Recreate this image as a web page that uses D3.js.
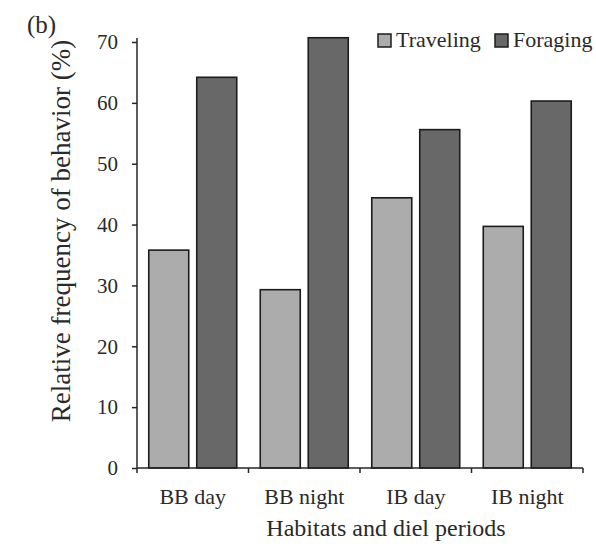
<!DOCTYPE html>
<html>
<head>
<meta charset="utf-8">
<script src="https://cdn.jsdelivr.net/npm/d3@7"></script>
<style>
    html, body { margin: 0; padding: 0; background: #fff; overflow: hidden; }
    svg { display: block; }
</style>
</head>
<body>
<script>
/*
*    behavior chart
*/

var categories = ["BB day", "BB night", "IB day", "IB night"];
var series = ["Traveling", "Foraging"];
var traveling = [35.8, 29.3, 44.4, 39.7];
var foraging = [64.2, 70.7, 55.6, 60.3];
var yTicks = [0, 10, 20, 30, 40, 50, 60, 70];

var width = 596;
var height = 555;
var margin = {top: 42, right: 13, bottom: 87, left: 137};
var colors = {"Traveling": "#acacac", "Foraging": "#686868"};
var font = "'Liberation Serif', 'Times New Roman', serif";
var ink = "#2a2a2a";

var innerWidth = width - margin.left - margin.right;
var innerHeight = height - margin.top - margin.bottom;

//Table for the bars
var rows = categories.map((c, i) => ({
    category: c,
    values: [
        {key: "Traveling", value: traveling[i]},
        {key: "Foraging", value: foraging[i]}
    ]
}));

//Scales
var x = d3.scaleBand()
    .domain(categories)
    .range([0, innerWidth]);

var x1 = d3.scaleBand()
    .domain(series)
    .range([0, x.bandwidth()])
    .paddingInner(0.1667)
    .paddingOuter(0.245);

var y = d3.scaleLinear()
    .domain([0, 70])
    .range([innerHeight, 0]);

//Canvas
var svg = d3.select("body")
    .append("svg")
        .attr("width", width)
        .attr("height", height)
        .attr("font-family", font);

var g = svg.append("g")
    .attr("transform", "translate(" + margin.left + ", " + margin.top + ")");

//Bars
var groups = g.selectAll("g.cat")
    .data(rows)
    .enter()
    .append("g")
        .attr("class", "cat")
        .attr("transform", d => "translate(" + x(d.category) + ", 0)");

groups.selectAll("rect")
    .data(d => d.values)
    .enter()
    .append("rect")
        .attr("x", d => x1(d.key))
        .attr("y", d => y(d.value))
        .attr("width", x1.bandwidth())
        .attr("height", d => innerHeight - y(d.value))
        .attr("fill", d => colors[d.key])
        .attr("stroke", "#1c1c1c")
        .attr("stroke-width", 1.6);

//Axes
var leftAxis = d3.axisLeft(y)
    .tickValues(yTicks)
    .tickSize(5)
    .tickPadding(14)
    .tickSizeOuter(0);
var yAxis = g.append("g")
    .attr("class", "y-axis")
    .call(leftAxis)
    .attr("font-family", font)
    .attr("font-size", 21);
yAxis.select(".domain").attr("stroke", "#262626").attr("stroke-width", 1.5)
    .attr("d", "M0," + innerHeight + "V-4");
yAxis.selectAll(".tick line").attr("stroke", "#262626").attr("stroke-width", 1.5);
yAxis.selectAll(".tick text").attr("fill", ink);

var bottomAxis = d3.axisBottom(x)
    .tickSize(0)
    .tickPadding(20);
var xAxis = g.append("g")
    .attr("class", "x-axis")
    .attr("transform", "translate(0, " + innerHeight + ")")
    .call(bottomAxis)
    .attr("font-family", font)
    .attr("font-size", 22);
xAxis.select(".domain").attr("stroke", "#262626").attr("stroke-width", 1.5)
    .attr("d", "M0,0H" + innerWidth);
xAxis.selectAll(".tick text").attr("fill", ink);

//Boundary ticks between categories
var bounds = categories.map(c => x(c)).concat([innerWidth]);
xAxis.selectAll("line.bound")
    .data(bounds)
    .enter()
    .append("line")
        .attr("class", "bound")
        .attr("x1", d => d)
        .attr("x2", d => d)
        .attr("y1", 0)
        .attr("y2", 5)
        .attr("stroke", "#262626")
        .attr("stroke-width", 1.5);

//Axis titles
svg.append("text")
    .attr("x", 386)
    .attr("y", 536)
    .attr("text-anchor", "middle")
    .attr("font-size", 24)
    .attr("fill", ink)
    .text("Habitats and diel periods");

svg.append("text")
    .attr("transform", "translate(70, 231) rotate(-90)")
    .attr("text-anchor", "middle")
    .attr("font-size", 27)
    .attr("fill", ink)
    .text("Relative frequency of behavior (%)");

svg.append("text")
    .attr("x", 27)
    .attr("y", 33)
    .attr("font-size", 25)
    .attr("fill", ink)
    .text("(b)");

//Legend
var legendX = [378, 495];
var legend = svg.selectAll("g.legend")
    .data(series)
    .enter()
    .append("g")
        .attr("class", "legend")
        .attr("transform", (d, i) => "translate(" + legendX[i] + ", 34)");

legend.append("rect")
    .attr("width", 13)
    .attr("height", 13)
    .attr("fill", d => colors[d])
    .attr("stroke", "#1c1c1c")
    .attr("stroke-width", 1.5);

legend.append("text")
    .attr("x", 18)
    .attr("y", 13)
    .attr("font-size", 22)
    .attr("fill", ink)
    .text(d => d);
</script>
</body>
</html>
